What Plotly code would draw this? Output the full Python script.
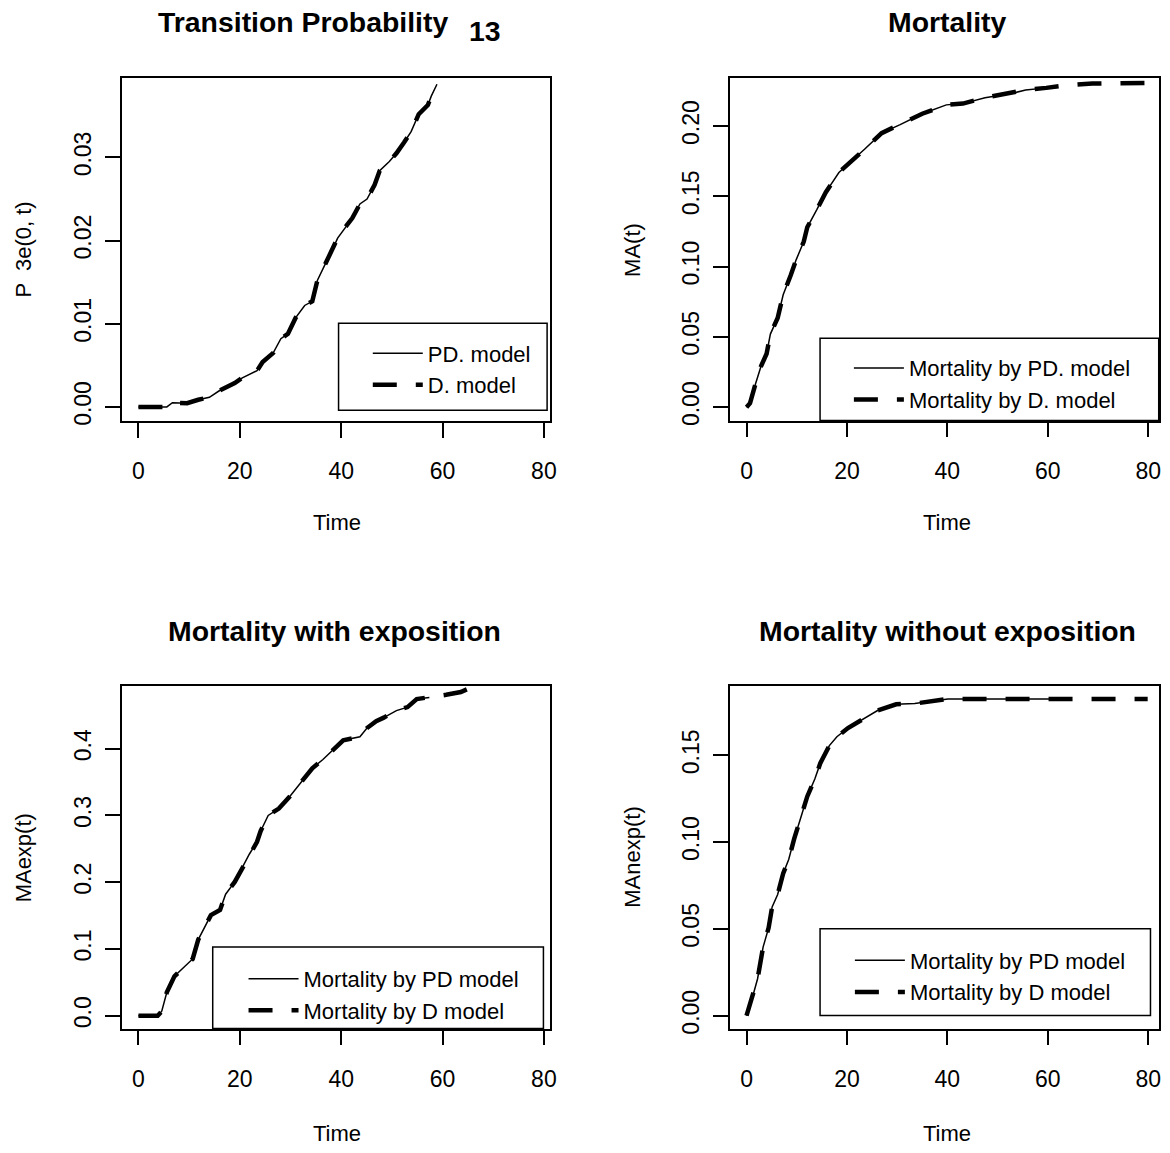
import plotly.graph_objects as go

W, H = 1170, 1153
FONT = "Liberation Sans"

# ---------------- data ----------------
# Panel 1: Transition Probability 13
p13_time_pd = [0, 5.6, 6.7, 9.6, 11.8, 14.0, 16.1, 19.0, 20.5, 23.4, 24.5, 26.6, 28.1, 29.5, 31.0,
               32.8, 34.3, 35.3, 36.8, 37.9, 39.3, 40.8, 42.2, 43.7, 45.1, 46.6, 47.6, 49.5, 50.9,
               52.4, 53.8, 55.3, 57.1, 57.8, 58.9]
p13_pd = [0, 0, 0.0005, 0.00044, 0.00086, 0.00116, 0.0020, 0.00287, 0.0035, 0.00436, 0.0054, 0.0065,
          0.0082, 0.0088, 0.0107, 0.0122, 0.0127, 0.0152, 0.0171, 0.0184, 0.0203, 0.0216, 0.0227,
          0.0244, 0.0250, 0.0267, 0.0284, 0.0295, 0.0305, 0.0318, 0.0331, 0.0352, 0.0363, 0.0374, 0.0388]
p13_time_d = [0, 5.6, 6.7, 9.6, 11.8, 14.0, 16.1, 19.0, 20.5, 23.4, 24.5, 26.6, 28.1, 29.5, 31.0,
              32.8, 34.3, 35.3, 36.8, 37.9, 39.3, 40.8, 42.2, 43.7, 45.1, 46.6, 47.6, 49.5, 50.9,
              52.4, 53.8, 55.3, 57.1, 57.8, 58.9]
p13_d = [0, 0, 0.0005, 0.00044, 0.00086, 0.00116, 0.0020, 0.00287, 0.0035, 0.00436, 0.0054, 0.0065,
         0.0082, 0.0088, 0.0107, 0.0122, 0.0127, 0.0152, 0.0171, 0.0184, 0.0203, 0.0216, 0.0227,
         0.0244, 0.0250, 0.0267, 0.0284, 0.0295, 0.0305, 0.0318, 0.0331, 0.0352, 0.0363, 0.0374, 0.0388]

# Panel 2: Mortality MA(t)
ma_time_pd = [0, 0.7, 1.8, 2.9, 4.0, 4.75, 6.2, 7.3, 8.8, 9.9, 11.4, 12.1, 14.0, 15.8, 18.4, 21.3,
              23.5, 26.9, 30.6, 35.0, 39.8, 43.1, 47.5, 53.0, 55.6, 59.7]
ma_pd = [0, 0.0028, 0.0167, 0.0293, 0.038, 0.052, 0.0635, 0.080, 0.0938, 0.105, 0.1178, 0.128,
         0.1405, 0.153, 0.167, 0.176, 0.1835, 0.195, 0.201, 0.2088, 0.2151, 0.216, 0.2202, 0.2234,
         0.2257, 0.2272]
ma_time_d = [0, 0.7, 1.8, 2.9, 4.0, 4.75, 6.2, 7.3, 8.8, 9.9, 11.4, 12.1, 14.0, 15.8, 18.4, 21.3,
             23.5, 26.9, 30.6, 35.0, 39.8, 43.1, 47.5, 53.0, 55.6, 59.7, 63.7, 68.9, 82.0]
ma_d = [0, 0.0028, 0.0167, 0.0293, 0.038, 0.052, 0.0635, 0.080, 0.0938, 0.105, 0.1178, 0.128,
        0.1405, 0.153, 0.167, 0.176, 0.1835, 0.195, 0.201, 0.2088, 0.2151, 0.216, 0.2202, 0.2234,
        0.2257, 0.2272, 0.229, 0.2303, 0.2308]

# Panel 3: Mortality with exposition MAexp(t)
maexp_time_pd = [0, 3.8, 4.6, 5.6, 7.1, 8.9, 10.7, 11.8, 12.9, 14.3, 16.1, 17.2, 19.0, 20.5, 21.9,
                 23.4, 24.1, 25.6, 27.7, 29.9, 32.1, 34.3, 36.4, 38.2, 40.4, 43.7, 45.1, 46.9, 48.4,
                 50.9, 53.1, 54.9, 57.4]
maexp_pd = [0, 0, 0.0067, 0.035, 0.059, 0.072, 0.085, 0.114, 0.130, 0.1507, 0.1585, 0.182, 0.2004,
            0.2213, 0.2423, 0.2606, 0.2764, 0.300, 0.3104, 0.3288, 0.3498, 0.3708, 0.3839, 0.3969,
            0.4127, 0.418, 0.431, 0.4414, 0.4466, 0.4572, 0.4624, 0.4745, 0.4766]
maexp_time_d = [0, 3.8, 4.6, 5.6, 7.1, 8.9, 10.7, 11.8, 12.9, 14.3, 16.1, 17.2, 19.0, 20.5, 21.9,
                23.4, 24.1, 25.6, 27.7, 29.9, 32.1, 34.3, 36.4, 38.2, 40.4, 43.7, 45.1, 46.9, 48.4,
                50.9, 53.1, 54.9, 57.4, 60.7, 63.6, 65.8]
maexp_d = [0, 0, 0.0067, 0.035, 0.059, 0.072, 0.085, 0.114, 0.130, 0.1507, 0.1585, 0.182, 0.2004,
           0.2213, 0.2423, 0.2606, 0.2764, 0.300, 0.3104, 0.3288, 0.3498, 0.3708, 0.3839, 0.3969,
           0.4127, 0.418, 0.431, 0.4414, 0.4466, 0.4572, 0.4624, 0.4745, 0.4766, 0.4808, 0.485, 0.4922]

# Panel 4: Mortality without exposition MAnexp(t)
manexp_time_pd = [0, 1.05, 2.2, 3.3, 4.4, 5.1, 6.2, 7.3, 8.4, 9.5, 10.6, 12.1, 13.6, 14.7, 16.5,
                  18.0, 20.2, 23.2, 26.1, 29.8, 33.5, 40.1, 62.0]
manexp_pd = [0, 0.0092, 0.0213, 0.0395, 0.0506, 0.0627, 0.0698, 0.0819, 0.090, 0.102, 0.1122,
             0.1263, 0.1364, 0.1455, 0.1556, 0.1607, 0.1657, 0.1708, 0.1758, 0.1794, 0.1798,
             0.1825, 0.1825]
manexp_time_d = [0, 1.05, 2.2, 3.3, 4.4, 5.1, 6.2, 7.3, 8.4, 9.5, 10.6, 12.1, 13.6, 14.7, 16.5,
                 18.0, 20.2, 23.2, 26.1, 29.8, 33.5, 40.1, 79.9]
manexp_d = [0, 0.0092, 0.0213, 0.0395, 0.0506, 0.0627, 0.0698, 0.0819, 0.090, 0.102, 0.1122,
            0.1263, 0.1364, 0.1455, 0.1556, 0.1607, 0.1657, 0.1708, 0.1758, 0.1794, 0.1798,
            0.1825, 0.1825]

x_ticks = [0, 20, 40, 60, 80]
y_ticks_p13 = [0, 0.01, 0.02, 0.03]
y_ticks_ma = [0, 0.05, 0.10, 0.15, 0.20]
y_ticks_maexp = [0, 0.1, 0.2, 0.3, 0.4]
y_ticks_manexp = [0, 0.05, 0.10, 0.15]

# ---------------- helpers ----------------
def px_x(x):
    return x / W

def px_y(y):
    return 1 - y / H

fig = go.Figure()

DASH = "24px,19px"

panels = [
    ("", "legend", p13_time_pd, p13_pd, p13_time_d, p13_d, "PD. model", "D. model"),
    ("2", "legend2", ma_time_pd, ma_pd, ma_time_d, ma_d, "Mortality by PD. model", "Mortality by D. model"),
    ("3", "legend3", maexp_time_pd, maexp_pd, maexp_time_d, maexp_d, "Mortality by PD model", "Mortality by D model"),
    ("4", "legend4", manexp_time_pd, manexp_pd, manexp_time_d, manexp_d, "Mortality by PD model", "Mortality by D model"),
]

for suf, leg, tp, yp, td, yd, lp, ld in panels:
    fig.add_trace(go.Scatter(x=td, y=yd, mode="lines", name=ld,
                             line=dict(color="black", width=4.5, dash=DASH),
                             xaxis="x" + suf, yaxis="y" + suf, legend=leg))
    fig.add_trace(go.Scatter(x=tp, y=yp, mode="lines", name=lp,
                             line=dict(color="black", width=1.5),
                             xaxis="x" + suf, yaxis="y" + suf, legend=leg))

# plot boxes in pixels: left, right, top, bottom
boxes = {
    "": (122.7, 553.3, 78.0, 423.0),
    "2": (734.0, 1165.7, 78.3, 422.7),
    "3": (122.7, 553.3, 690.0, 1034.0),
    "4": (734.0, 1165.7, 690.0, 1034.0),
}
xranges = {"": [-3.25, 81.2], "2": [-3.37, 82.1], "3": [-3.25, 81.2], "4": [-3.37, 82.1]}
yranges = {"": [-0.00167, 0.0396], "2": [-0.0095, 0.2343], "3": [-0.0194, 0.4934], "4": [-0.00745, 0.1897]}
yticks = {"": (y_ticks_p13, ".2f"), "2": (y_ticks_ma, ".2f"), "3": (y_ticks_maexp, ".1f"),
          "4": (y_ticks_manexp, ".2f")}

axis_common = dict(showline=True, linecolor="black", linewidth=1.5, mirror=True,
                   ticks="outside", ticklen=15, tickwidth=1.5, tickcolor="black",
                   showgrid=False, zeroline=False,
                   tickfont=dict(family=FONT, size=23, color="black"))

layout = {}
for suf, (l, r, t, b) in boxes.items():
    xname = "xaxis" + suf
    yname = "yaxis" + suf
    yt, fmt = yticks[suf]
    layout[xname] = dict(axis_common, domain=[px_x(l), px_x(r)], range=xranges[suf],
                         anchor="y" + suf, tickvals=x_ticks, ticklabelstandoff=14)
    layout[yname] = dict(axis_common, domain=[px_y(b), px_y(t)], range=yranges[suf],
                         anchor="x" + suf, tickvals=yt, tickformat=fmt, tickangle=-90,
                         ticklabelstandoff=5)

fig.update_layout(**layout)

# legends: (origin x px, top y px)
leg_pos = {"legend": (370, 334.2), "legend2": (854, 348.9), "legend3": (245, 962.9),
           "legend4": (855, 944.4)}
for name, (lx, ly) in leg_pos.items():
    fig.update_layout(**{name: dict(x=px_x(lx), y=px_y(ly), xanchor="left", yanchor="top",
                                    bgcolor="rgba(0,0,0,0)", borderwidth=0, itemwidth=50,
                                    traceorder="reversed",
                                    font=dict(family=FONT, size=22, color="black"))})

# legend frames (pixel rectangles)
leg_boxes = [(340.6, 550.4, 325.0, 412.5), (825.0, 1165.7, 340.0, 422.7),
             (214.0, 546.7, 952.0, 1034.0), (825.0, 1157.4, 933.5, 1020.8)]
shapes = []
for (l, r, t, b) in leg_boxes:
    shapes.append(dict(type="rect", xref="paper", yref="paper", x0=px_x(l), x1=px_x(r),
                       y0=px_y(b), y1=px_y(t), fillcolor="white",
                       line=dict(color="black", width=1.5), layer="above"))

annotations = []
def ann(text, x, y, size, bold=False, angle=0):
    annotations.append(dict(text=("<b>%s</b>" % text) if bold else text, x=px_x(x), y=px_y(y),
                            xref="paper", yref="paper", showarrow=False, textangle=angle,
                            xanchor="center", yanchor="middle",
                            font=dict(family=FONT, size=size, color="black")))

# titles
ann("Transition Probability", 305, 22, 28.4, bold=True)
ann("13", 488, 31, 28.4, bold=True)
ann("Mortality", 953, 22, 28.4, bold=True)
ann("Mortality with exposition", 337, 634, 28.4, bold=True)
ann("Mortality without exposition", 953, 634, 28.4, bold=True)
# x titles
ann("Time", 339, 525, 22)
ann("Time", 953, 525, 22)
ann("Time", 339, 1139, 22)
ann("Time", 953, 1139, 22)
# y titles
ann("P  3e(0, t)", 24, 251, 22, angle=-90)
ann("MA(t)", 636, 251, 22, angle=-90)
ann("MAexp(t)", 24, 862, 22, angle=-90)
ann("MAnexp(t)", 636, 862, 22, angle=-90)

fig.update_layout(width=W, height=H, margin=dict(l=0, r=0, t=0, b=0),
                  paper_bgcolor="white", plot_bgcolor="white", showlegend=True,
                  shapes=shapes, annotations=annotations)

fig.write_html("out.html", config={"displayModeBar": False},
               post_script="document.body.style.margin='0';document.body.style.padding='0';")
